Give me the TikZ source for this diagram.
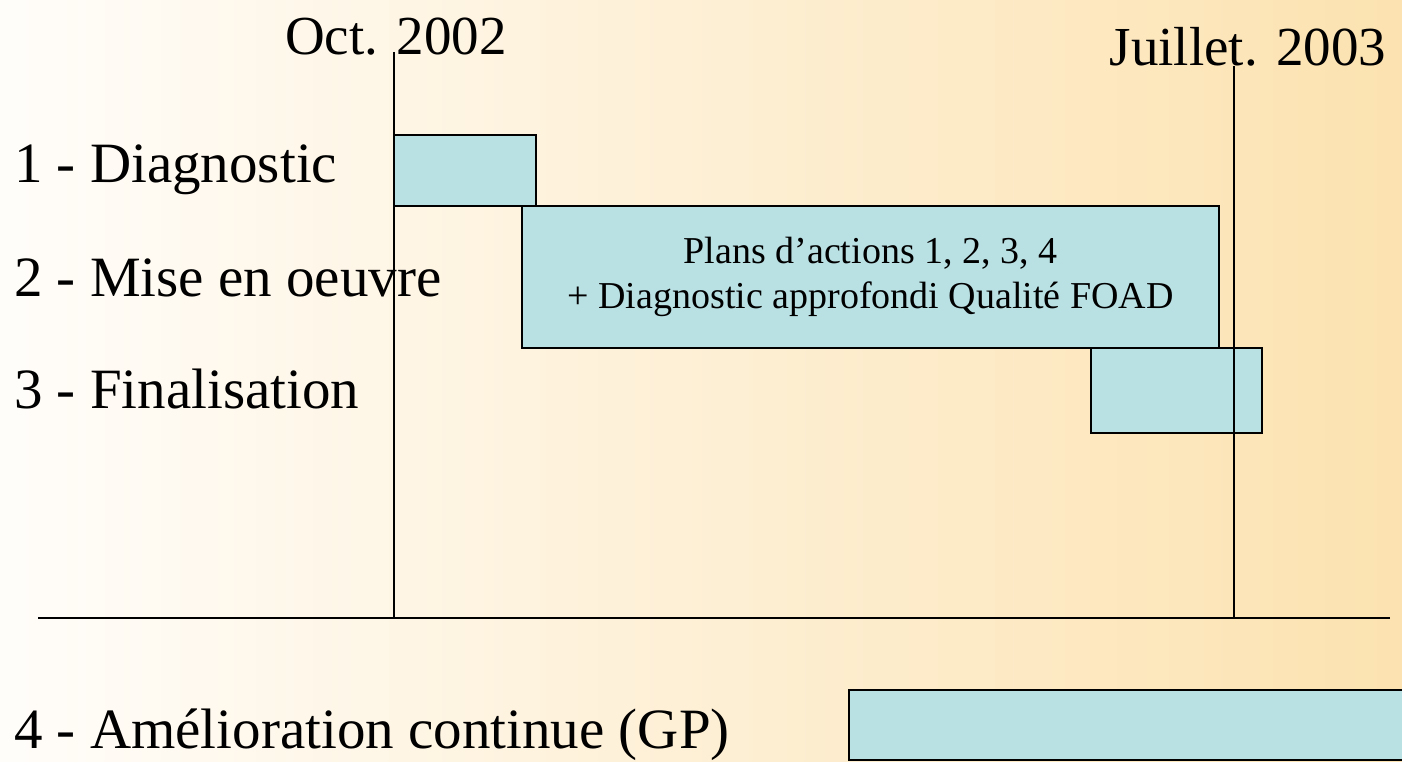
\documentclass[tikz,border=0pt]{standalone}
\usepackage{fontspec}
\setmainfont{Liberation Serif}
\definecolor{barfill}{HTML}{B9E0E3}
\definecolor{bgleft}{HTML}{FFFDFA}
\definecolor{bgright}{HTML}{FCE2B0}
\tikzset{
 bar/.style={draw,line width=1.6pt,fill=barfill,inner sep=0pt,outer sep=0pt,anchor=north west},
 tache/.style={anchor=base west,inner sep=0pt,font=\fontsize{57}{60}\selectfont},
 date/.style={anchor=base,inner sep=0pt,font=\fontsize{55}{60}\selectfont},
}
\begin{document}
\begin{tikzpicture}[x=1pt,y=-1pt]
 \shade[left color=bgleft,right color=bgright] (0,0) rectangle (1402,762);
 \useasboundingbox (0,0) rectangle (1402,762);
 % barres
 \node[bar,minimum width=142pt,minimum height=71pt] (B1) at (394,135) {};
 \node[bar,minimum width=697pt,minimum height=142pt,align=center,
  font=\fontsize{38}{45}\selectfont] (B2) at (522,206)
  {Plans d'actions 1, 2, 3, 4\\+ Diagnostic approfondi Qualité FOAD};
 \node[bar,minimum width=171pt,minimum height=85pt] (B3) at (1091,348) {};
 \node[bar,minimum width=560pt,minimum height=70pt] (B4) at (849,690) {};
 \path
 (14,183) node[tache] (T1) {1 - Diagnostic} % <<< tache 1
 ++(0,113) node[tache] (T2) {2 - Mise en oeuvre} % <<< tache 2
 ++(0,112) node[tache] (T3) {3 - Finalisation} % <<< tache 3
 (14,748) node[tache] (T4) {4 - Amélioration continue (GP)} % <<< tache 4
 (396,55) node[date] (D1) {Oct. 2002}
 (1248,66) node[date] (D2) {Juillet. 2003};
 % axes
 \coordinate (A1) at (394,618);
 \coordinate (A2) at (1234,618);
 \draw[line width=1.3pt] (394,52)--(A1) (1234,66)--(A2);
 \draw[line width=2.2pt] (38,618)--(1390,618);
\end{tikzpicture}
\end{document}
